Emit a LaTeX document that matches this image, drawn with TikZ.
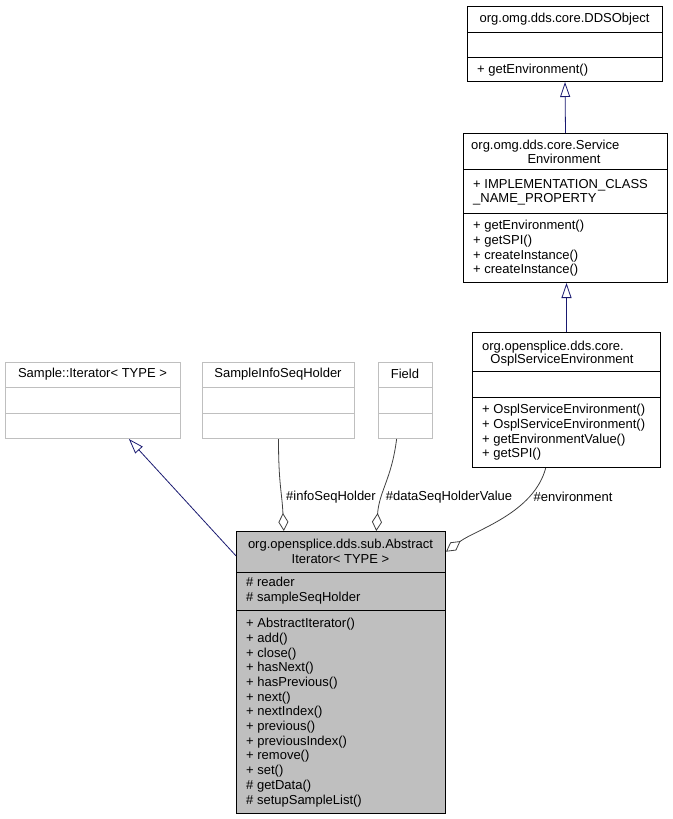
\documentclass[tikz,border=0pt]{standalone}
\usepackage{fontspec}
\setmainfont{Liberation Sans}
\usetikzlibrary{arrows.meta}
\definecolor{edgegray}{HTML}{404040}
\definecolor{boxgray}{HTML}{BFBFBF}
\definecolor{inhnavy}{HTML}{191970}

\begin{document}
\begin{tikzpicture}[x=1pt, y=-1pt,
  font=\fontsize{13}{14.7}\selectfont,
  classbox/.style={draw=black, line width=1pt, anchor=north west, inner sep=0pt},
  extbox/.style={draw=boxgray, line width=1pt, anchor=north west, inner sep=0pt},
  members/.style={anchor=north west, inner sep=0pt, align=left},
  title/.style={inner sep=0pt},
  inherit/.style={draw=inhnavy, line width=0.8pt, -{Triangle[open, length=15pt, width=10pt, fill=white]}},
  aggr/.style={draw=edgegray, line width=0.8pt, -{Diamond[open, length=18pt, width=10pt, fill=white]}},
  lbl/.style={inner sep=0pt}]
\useasboundingbox (0,0) rectangle (672,819);

\node [classbox, minimum width=195pt, minimum height=75pt] (ddsobj) at (467,6) {};
\draw [line width=1pt] (467,32) -- (662,32) (467,57) -- (662,57);
\node [title] (ddsobjtitle) at (564.5,19) {org.omg.dds.core.DDSObject};
\node [members] (ddsobjmeth) at (477,64) {+ getEnvironment()};

\node [classbox, minimum width=204pt, minimum height=149pt] (svcenv) at (463,133) {};
\draw [line width=1pt] (463,169) -- (667,169) (463,213) -- (667,213);
\node [title, anchor=west] (svcenvtitle) at (471,146) {org.omg.dds.core.Service};
\node [title] (svcenvtitleb) at (564,159) {Environment};
\node [members] (svcenvattr) at (473,179) {+ IMPLEMENTATION\_CLASS\\\_NAME\_PROPERTY};
\node [members] (svcenvmeth) at (473,220) {+ getEnvironment()\\+ getSPI()\\+ createInstance()\\+ createInstance()};

\node [classbox, minimum width=188pt, minimum height=135pt] (ospl) at (472,332) {};
\draw [line width=1pt] (472,371) -- (660,371) (472,397) -- (660,397);
\node [title] (ospltitle) at (553,347) {org.opensplice.dds.core.};
\node [title] (ospltitleb) at (562,360) {OsplServiceEnvironment};
\node [members] (osplmeth) at (482,404) {+ OsplServiceEnvironment()\\+ OsplServiceEnvironment()\\+ getEnvironmentValue()\\+ getSPI()};

\node [extbox, minimum width=175pt, minimum height=76pt] (sampleit) at (5,362) {};
\draw [boxgray, line width=1pt] (5,387) -- (180,387) (5,413) -- (180,413);
\node [title] (sampleittitle) at (92.5,374) {Sample::Iterator< TYPE >};

\node [extbox, minimum width=152pt, minimum height=76pt] (infoseq) at (202,362) {};
\draw [boxgray, line width=1pt] (202,387) -- (354,387) (202,413) -- (354,413);
\node [title] (infoseqtitle) at (278,374) {SampleInfoSeqHolder};

\node [extbox, minimum width=54pt, minimum height=76pt] (field) at (378,362) {};
\draw [boxgray, line width=1pt] (378,387) -- (432,387) (378,413) -- (432,413);
\node [title] (fieldtitle) at (405,374) {Field};

\node [classbox, fill=boxgray, minimum width=209pt, minimum height=282pt] (absiter) at (236,531) {};
\draw [line width=1pt] (236,572) -- (445,572) (236,610) -- (445,610);
\node [title, align=center] (absitertitle) at (340.5,551.5) {org.opensplice.dds.sub.Abstract\\Iterator< TYPE >};
\node [members] (absiterattr) at (246,577) {\# reader\\\# sampleSeqHolder};
\node [members] (absitermeth) at (246,618) {+ AbstractIterator()\\+ add()\\+ close()\\+ hasNext()\\+ hasPrevious()\\+ next()\\+ nextIndex()\\+ previous()\\+ previousIndex()\\+ remove()\\+ set()\\\# getData()\\\# setupSampleList()};

% generalisations
\draw [inherit] (svcenv.north) -- (ddsobj.south);
\draw [inherit] (ospl.north) -- (ospl.north |- svcenv.south);
\draw [inherit] (absiter.132) -- (sampleit.-47);

% aggregations
\draw [aggr] (infoseq.south) .. controls +(0,45) and +(-2,-40) .. (absiter.112);
\draw [aggr] (field.-103) .. controls +(-5,40) and +(3,-40) .. (absiter.76);
\draw [aggr] (ospl.-107) .. controls +(-12,45) and +(30,-22) .. (absiter.49);
\node [lbl] (lblinfo) at (331,497) {\#infoSeqHolder};
\node [lbl] (lbldata) at (449,497) {\#dataSeqHolderValue};
\node [lbl] (lblenv) at (573,497) {\#environment};
\end{tikzpicture}
\end{document}
